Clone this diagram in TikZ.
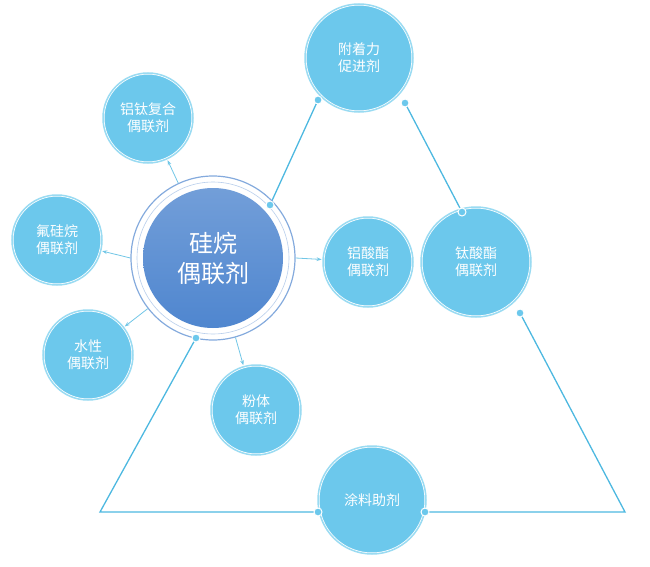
\documentclass[tikz,border=0pt]{standalone}
\usepackage{fontspec}
\setmainfont{Noto Sans CJK SC}
\usetikzlibrary{arrows.meta}
\definecolor{lb}{HTML}{6CC8EC}
\definecolor{ring}{HTML}{9ADBF2}
\definecolor{ln}{HTML}{4DB8E0}
\definecolor{cb}{HTML}{4F86CF}
\tikzset{
  sm/.style={circle,minimum size=#1,fill=lb,draw=white,line width=3pt,text=white,font=\fontsize{14}{17}\selectfont,align=center,inner sep=0pt,
    postaction={draw=ring,line width=1.5pt}},
  con/.style={draw=ln,line width=1.3pt},
  arr/.style={draw=ln!80,line width=0.8pt,-{Stealth[length=5pt]}},
  dot/.style={circle,fill=lb,draw=white,line width=1pt,minimum size=8pt,inner sep=0pt}
}
\begin{document}
\begin{tikzpicture}[x=1pt,y=-1pt]
\useasboundingbox (0,0) rectangle (650,567);
% triangle
\coordinate (A1) at (318,100); \coordinate (A2) at (405,103);
\coordinate (C1) at (270,205); \coordinate (C2) at (196,338);
\coordinate (T1) at (462,212); \coordinate (T2) at (520,313);
\coordinate (P1) at (318,512); \coordinate (P2) at (425,512);
\coordinate (BR) at (625,512); \coordinate (BL) at (100,512);
\draw[con] (A1) -- (C1);
\draw[con] (A2) -- (T1);
\draw[con] (T2) -- (BR) -- (P2);
\draw[con] (P1) -- (BL) -- (C2);
% central
\node[circle,minimum size=164pt,draw=cb!70,line width=1.2pt,fill=white] (c) at (213,258) {};
\node[circle,minimum size=152pt,draw=cb!40,line width=0.6pt] at (213,258) {};
\node[circle,minimum size=140pt,inner sep=0pt,top color=cb!80,bottom color=cb,text=white,font=\fontsize{24}{30}\selectfont,align=center] (cc) at (213,258) {硅烷\\偶联剂};
% small circles
\node[sm=90pt] (a) at (148,118) {铝钛复合\\偶联剂};
\node[sm=90pt] (b) at (57,240) {氟硅烷\\偶联剂};
\node[sm=90pt] (w) at (88,355) {水性\\偶联剂};
\node[sm=90pt] (f) at (256,410) {粉体\\偶联剂};
\node[sm=90pt] (l) at (368,262) {铝酸酯\\偶联剂};
\node[sm=108pt] (p) at (359,58) {附着力\\促进剂};
\node[sm=110pt] (t) at (476,262) {钛酸酯\\偶联剂};
\node[sm=108pt] (u) at (372,500) {涂料助剂};
% arrows
\draw[arr] (c) -- (a);
\draw[arr] (c.west) -- (b);
\draw[arr] (c) -- (w);
\draw[arr] (c) -- (f);
\draw[arr] (c.east) -- (l);
% dots
\foreach \q in {A1,A2,C1,C2,T1,T2,P1,P2} \node[dot] at (\q) {};
\end{tikzpicture}
\end{document}
